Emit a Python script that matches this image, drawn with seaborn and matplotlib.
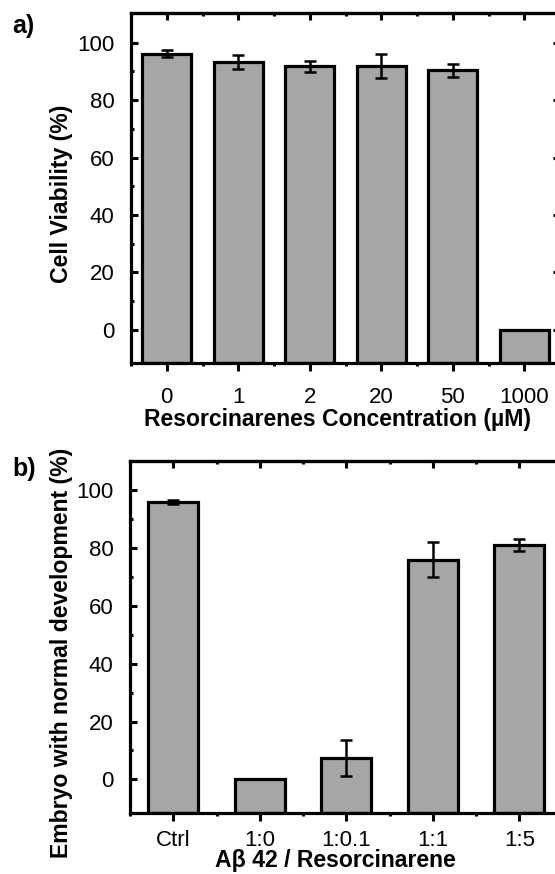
import numpy as np
import matplotlib
matplotlib.use('Agg')
import matplotlib.pyplot as plt
import seaborn as sns
from matplotlib.ticker import FixedLocator

# ── data ────────────────────────────────────────────────────────────────────
conc_labels = ['0', '1', '2', '20', '50', '1000']
viability = [96.2, 93.2, 91.7, 92.0, 90.3, 0.0]
viability_err = [1.3, 2.5, 1.8, 4.2, 2.2, 0.0]

ratio_labels = ['Ctrl', '1:0', '1:0.1', '1:1', '1:5']
normal_dev = [96.0, 0.0, 7.4, 76.0, 81.0]
normal_dev_err = [0.7, 0.0, 6.2, 6.0, 2.1]

BAR_GRAY = '#a6a6a6'
YMIN, YMAX = -11.5, 110.3

sns.set_style('white')
plt.rcParams['font.family'] = ['Liberation Sans', 'DejaVu Sans']
plt.rcParams.update({'text.color': 'black', 'axes.labelcolor': 'black',
                     'xtick.color': 'black', 'ytick.color': 'black'})

fig = plt.figure(figsize=(5.55, 8.74), dpi=100)
ax_a = fig.add_axes([131 / 555, 1 - 363 / 874, 429 / 555, 350 / 874])
ax_b = fig.add_axes([130 / 555, 1 - 812.5 / 874, 432.5 / 555, 351.8 / 874])


def draw_panel(ax, labels, vals, errs, width, xlabel, ylabel, xlab_pos, ylab_pos, xpad):
    n = len(labels)
    sns.barplot(x=labels, y=vals, order=labels, color=BAR_GRAY, saturation=1,
                errorbar=None, width=width, edgecolor='black', linewidth=2.3,
                ax=ax, zorder=2)
    # bars start at the bottom of the axis, not at zero
    for p in ax.patches:
        h = p.get_height()
        p.set_y(YMIN)
        p.set_height(h - YMIN)
    vals = np.array(vals)
    errs = np.array(errs)
    mask = errs > 0
    ax.errorbar(np.arange(n)[mask], vals[mask], yerr=errs[mask], fmt='none',
                ecolor='black', elinewidth=1.8, capsize=4, capthick=1.8, zorder=5)

    ax.set_xlim(-0.5, n - 0.5)
    ax.set_ylim(YMIN, YMAX)
    ax.set_yticks([0, 20, 40, 60, 80, 100])
    ax.yaxis.set_minor_locator(FixedLocator([10, 30, 50, 70, 90]))
    ax.xaxis.set_minor_locator(FixedLocator(np.arange(-0.5, n, 1)))

    for s in ax.spines.values():
        s.set_visible(True)
        s.set_linewidth(2.3)
        s.set_color('black')

    ax.tick_params(axis='y', which='both', direction='in', left=True, right=True,
                   width=2.2, labelsize=16, pad=12)
    ax.tick_params(axis='y', which='major', length=5)
    ax.tick_params(axis='y', which='minor', length=2.5)
    ax.tick_params(axis='x', which='both', direction='out', bottom=True,
                   width=2.2, labelsize=16)
    ax.tick_params(axis='x', which='major', length=5.5, pad=xpad)
    ax.tick_params(axis='x', which='minor', length=2.5)

    top = ax.secondary_xaxis('top')
    top.set_xticks(range(n))
    top.xaxis.set_minor_locator(FixedLocator(np.arange(-0.5, n, 1)))
    top.tick_params(axis='x', which='both', direction='in', labeltop=False, width=2.2)
    top.tick_params(axis='x', which='major', length=5)
    top.tick_params(axis='x', which='minor', length=2.5)
    top.spines['top'].set_linewidth(2.3)

    ax.set_xlabel(xlabel, fontsize=16.6, fontweight='bold')
    ax.set_ylabel(ylabel, fontsize=16.6, fontweight='bold')
    ax.xaxis.set_label_coords(*xlab_pos)
    ax.yaxis.set_label_coords(*ylab_pos)


draw_panel(ax_a, conc_labels, viability, viability_err, 0.69,
           'Resorcinarenes Concentration (\u00b5M)', 'Cell Viability (%)',
           (0.4825, -0.128), (-0.135, 0.483), 12)
draw_panel(ax_b, ratio_labels, normal_dev, normal_dev_err, 0.58,
           'A\u03b2 42 / Resorcinarene', 'Embryo with normal development (%)',
           (0.474, -0.105), (-0.132, 0.455), 7)

fig.text(12 / 555, 1 - 14 / 874, 'a)', fontsize=18, fontweight='bold', va='top')
fig.text(12 / 555, 1 - 457 / 874, 'b)', fontsize=18, fontweight='bold', va='top')

plt.savefig('out.png', dpi=100)
